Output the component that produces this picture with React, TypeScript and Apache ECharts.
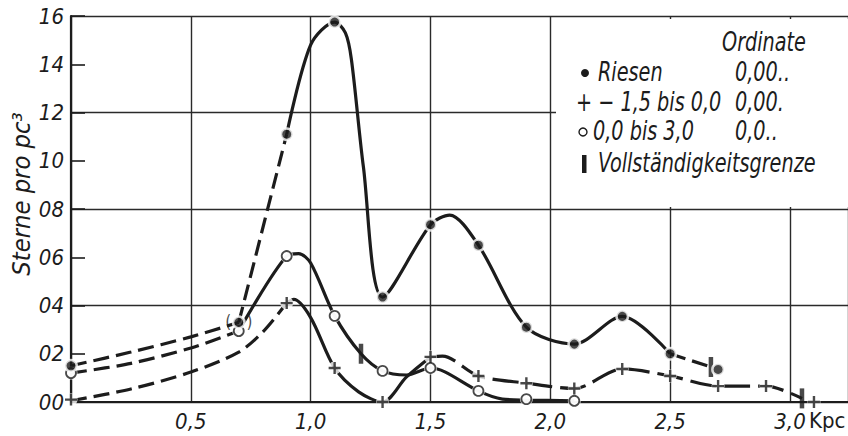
import React, { useEffect, useRef } from "react";
import * as echarts from "echarts";

// ---- data ----
// observed points (markers)
const riesenX = [0, 0.7, 0.9, 1.1, 1.3, 1.5, 1.7, 1.9, 2.1, 2.3, 2.5, 2.7];
const riesenY = [1.5, 3.3, 11.1, 15.75, 4.35, 7.35, 6.5, 3.1, 2.4, 3.55, 2.0, 1.35];
const riesenBracketed = [false, true, false, false, false, false, false, false, false, false, false, false];

const plusX = [0, 0.9, 1.1, 1.3, 1.5, 1.7, 1.9, 2.1, 2.3, 2.5, 2.7, 2.9, 3.1];
const plusY = [0.1, 4.1, 1.41, 0, 1.87, 1.08, 0.78, 0.56, 1.37, 1.08, 0.66, 0.66, 0];

const circX = [0, 0.7, 0.9, 1.1, 1.3, 1.5, 1.7, 1.9, 2.1];
const circY = [1.2, 2.94, 6.05, 3.57, 1.29, 1.41, 0.46, 0.12, 0.05];

// Vollständigkeitsgrenze marks
const limitX = [1.21, 2.67, 3.05];
const limitY = [2.0, 1.45, 0.15];

// drawn curve traces
const riesenDashX = [0, 0.25, 0.5, 0.7];
const riesenDashY = [1.5, 2.07, 2.7, 3.3];
const riesenSteepX = [0.7, 0.9];
const riesenSteepY = [3.3, 11.1];
const riesenCurveX = [0.9, 1.0, 1.1, 1.145, 1.17, 1.22, 1.3, 1.5, 1.58, 1.7, 1.9, 2.1, 2.3, 2.5];
const riesenCurveY = [11.1, 14.8, 15.75, 15.3, 14.2, 9.75, 4.35, 7.35, 7.75, 6.5, 3.1, 2.4, 3.55, 2.0];
const riesenEndX = [2.5, 2.67];
const riesenEndY = [2.0, 1.45];

const plusDashX = [0, 0.25, 0.5, 0.7, 0.8, 0.9];
const plusDashY = [0.05, 0.54, 1.24, 2.07, 2.9, 4.1];
const plusCurveX = [0.9, 0.93, 1.0, 1.1, 1.2, 1.3, 1.4, 1.5];
const plusCurveY = [4.1, 4.25, 3.5, 1.41, 0.42, 0, 1.04, 1.87];
const plusTailX = [1.5, 1.55, 1.7, 1.9, 2.1, 2.3, 2.5, 2.7, 2.9, 3.05];
const plusTailY = [1.87, 1.9, 1.08, 0.78, 0.56, 1.37, 1.08, 0.66, 0.66, 0.15];

const circDashX = [0, 0.25, 0.5, 0.7];
const circDashY = [1.2, 1.6, 2.24, 2.94];
const circCurveX = [0.7, 0.9, 0.95, 1.0, 1.1, 1.21, 1.3, 1.4, 1.5, 1.56, 1.7, 1.8, 1.9, 2.1];
const circCurveY = [2.94, 6.05, 6.15, 5.76, 3.57, 2.0, 1.29, 1.12, 1.41, 1.25, 0.46, 0.12, 0.08, 0.05];

const xTicks = [0.5, 1.0, 1.5, 2.0, 2.5, 3.0];

// ---- styling ----
const INK = "#1c1c1c";
const FONT = "'Liberation Sans Narrow', 'DejaVu Sans Condensed', 'Roboto', sans-serif";
const DASH = [16, 7];
const LONGDASH = [26, 8];
const PLUS = "path://M4,0H6V4H10V6H6V10H4V6H0V4H4Z";

const pairs = (xs: number[], ys: number[]) => xs.map((x, i) => [x, ys[i]]);

function lineSeries(xs: number[], ys: number[], type: any, smooth: number | boolean) {
  return {
    type: "line",
    data: pairs(xs, ys),
    smooth,
    showSymbol: false,
    symbol: "none",
    clip: false,
    z: 2,
    silent: true,
    lineStyle: { color: INK, width: 3.2, type, cap: "butt" },
  };
}

function legendText(text: string, x: number, y: number) {
  return {
    type: "text",
    z: 11,
    x,
    y,
    scaleX: 0.93,
    scaleY: 1.12,
    style: { text, font: `italic 23px ${FONT}`, fill: INK, verticalAlign: "middle" },
  };
}

export default function App() {
  const ref = useRef<HTMLDivElement>(null);
  useEffect(() => {
    const chart = echarts.init(ref.current!, undefined, { renderer: "svg" });
    const txt = { fontFamily: FONT, fontStyle: "italic", fontSize: 22, color: INK };

    const option: any = {
      animation: false,
      backgroundColor: "#ffffff",
      grid: { left: 71, right: -3, top: 16, bottom: 34, containLabel: false },
      xAxis: {
        type: "value",
        min: 0,
        max: 3.242,
        interval: 0.5,
        axisLine: { show: true, lineStyle: { color: INK, width: 2.2 } },
        axisTick: { show: false },
        splitLine: { show: true, lineStyle: { color: "#2a2a2a", width: 1.4 } },
        axisLabel: {
          ...txt,
          margin: 8,
          showMaxLabel: false,
          formatter: (v: number) =>
            xTicks.some((t) => Math.abs(t - v) < 1e-6) ? v.toFixed(1).replace(".", ",") : "",
        },
      },
      yAxis: [
        {
          type: "value",
          min: 0,
          max: 16,
          interval: 2,
          axisLine: { show: true, lineStyle: { color: INK, width: 2.2 } },
          axisTick: { show: true, inside: true, length: 14, lineStyle: { color: INK, width: 1.6 } },
          splitLine: { show: false },
          axisLabel: {
            ...txt,
            margin: 7,
            formatter: (v: number) => String(Math.round(v)).padStart(2, "0"),
          },
        },
        {
          type: "value",
          min: 0,
          max: 16,
          interval: 4,
          position: "left",
          axisLine: { show: false },
          axisTick: { show: false },
          axisLabel: { show: false },
          splitLine: { show: true, lineStyle: { color: "#2a2a2a", width: 1.4 } },
        },
      ],
      series: [
        lineSeries(riesenDashX, riesenDashY, DASH, 0.3),
        lineSeries(riesenSteepX, riesenSteepY, DASH, false),
        lineSeries(riesenCurveX, riesenCurveY, "solid", 0.3),
        lineSeries(riesenEndX, riesenEndY, DASH, false),
        lineSeries(plusDashX, plusDashY, DASH, 0.3),
        lineSeries(plusCurveX, plusCurveY, "solid", 0.3),
        lineSeries(plusTailX, plusTailY, LONGDASH, 0.3),
        lineSeries(circDashX, circDashY, DASH, 0.3),
        lineSeries(circCurveX, circCurveY, "solid", 0.3),
        // white halos under the markers
        {
          type: "scatter",
          data: pairs(circX, circY).concat(pairs(plusX, plusY)),
          symbol: "circle",
          symbolSize: 13,
          itemStyle: { color: "#ffffff" },
          clip: false,
          silent: true,
          z: 3,
        },
        {
          type: "scatter",
          data: pairs(circX, circY),
          symbol: "circle",
          symbolSize: 10,
          itemStyle: { color: "#ffffff", borderColor: INK, borderWidth: 1.8 },
          clip: false,
          silent: true,
          z: 4,
        },
        {
          type: "scatter",
          data: pairs(plusX, plusY),
          symbol: PLUS,
          symbolSize: 12,
          itemStyle: { color: INK },
          clip: false,
          silent: true,
          z: 4,
        },
        {
          type: "scatter",
          data: pairs(riesenX, riesenY).map((p, i) =>
            riesenBracketed[i]
              ? {
                  value: p,
                  label: {
                    show: true,
                    position: "inside",
                    formatter: "(\u2003)",
                    fontFamily: FONT,
                    fontSize: 17,
                    color: INK,
                  },
                }
              : p
          ),
          symbol: "circle",
          symbolSize: 11.5,
          itemStyle: { color: INK, borderColor: "#ffffff", borderWidth: 2.5 },
          clip: false,
          silent: true,
          z: 5,
        },
        {
          type: "scatter",
          data: pairs(limitX, limitY),
          symbol: "rect",
          symbolSize: [4.5, 20],
          itemStyle: { color: INK },
          clip: false,
          silent: true,
          z: 4,
        },
      ],
      graphic: [
        // legend background
        { type: "rect", z: 10, shape: { x: 556, y: 19, width: 300, height: 188 }, style: { fill: "#ffffff" } },
        legendText("Ordinate", 722, 42),
        { type: "circle", z: 11, shape: { cx: 585, cy: 73, r: 4 }, style: { fill: INK } },
        legendText("Riesen", 598, 72),
        legendText("0,00..", 735, 72),
        legendText("+ − 1,5 bis 0,0", 576, 102),
        legendText("0,00.", 735, 102),
        { type: "circle", z: 11, shape: { cx: 583, cy: 132, r: 4 }, style: { fill: "#ffffff", stroke: INK, lineWidth: 1.4 } },
        legendText("0,0 bis 3,0", 593, 131),
        legendText("0,0..", 735, 131),
        { type: "rect", z: 11, shape: { x: 582, y: 155, width: 4.5, height: 18 }, style: { fill: INK } },
        legendText("Vollständigkeitsgrenze", 598, 163),
        // axis unit and axis title
        { type: "text", z: 11, x: 809, y: 420, style: { text: "Kpc", font: `22px ${FONT}`, fill: INK, verticalAlign: "middle" } },
        {
          type: "text",
          z: 11,
          x: 22,
          y: 194,
          rotation: Math.PI / 2,
          scaleX: 1.1,
          scaleY: 1.05,
          style: { text: "Sterne pro pc³", font: `italic 23px ${FONT}`, fill: INK, align: "center", verticalAlign: "middle" },
        },
      ],
    };
    chart.setOption(option);
    return () => chart.dispose();
  }, []);

  return (
    <div
      ref={ref}
      style={{ position: "fixed", left: 0, top: 0, width: 848, height: 436, background: "#fff" }}
    />
  );
}
